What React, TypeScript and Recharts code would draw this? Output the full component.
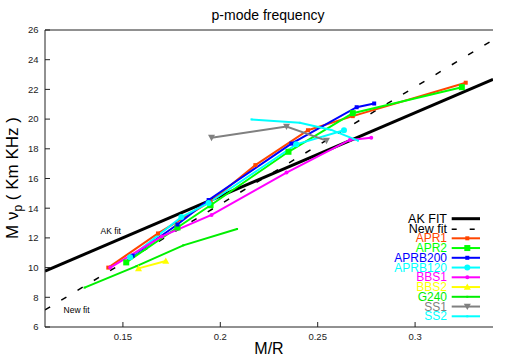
import React from 'react';
import { ComposedChart, Line, XAxis, YAxis, Legend, ReferenceDot, Customized } from 'recharts';

const FONT = '"Liberation Sans", Arial, Helvetica, sans-serif';

const xTicks = [0.15, 0.2, 0.25, 0.3];
const yTicks = [6, 8, 10, 12, 14, 16, 18, 20, 22, 24, 26];

const akFit = [{ x: 0.11, y: 9.77 }, { x: 0.34, y: 22.68 }];
const newFit = [{ x: 0.11, y: 7.15 }, { x: 0.34, y: 25.33 }];

const apr1 = [
  { x: 0.1425, y: 10.0 }, { x: 0.168, y: 12.3 }, { x: 0.195, y: 14.45 }, { x: 0.218, y: 16.9 },
  { x: 0.245, y: 19.25 }, { x: 0.268, y: 20.2 }, { x: 0.326, y: 22.45 },
];
const apr2 = [
  { x: 0.1517, y: 10.35 }, { x: 0.178, y: 12.7 }, { x: 0.195, y: 14.2 }, { x: 0.235, y: 17.8 },
  { x: 0.268, y: 20.4 }, { x: 0.324, y: 22.15 },
];
const aprb200 = [
  { x: 0.155, y: 10.8 }, { x: 0.178, y: 12.9 }, { x: 0.194, y: 14.55 }, { x: 0.2365, y: 18.35 },
  { x: 0.27, y: 20.8 }, { x: 0.279, y: 21.05 },
];
const aprb120 = [
  { x: 0.1537, y: 10.7 }, { x: 0.18, y: 13.4 }, { x: 0.194, y: 14.35 }, { x: 0.239, y: 18.3 },
  { x: 0.2635, y: 19.25 },
];
const bbs1 = [
  { x: 0.1435, y: 10.0 }, { x: 0.17, y: 12.1 }, { x: 0.1955, y: 13.55 }, { x: 0.234, y: 16.4 },
  { x: 0.2665, y: 18.6 }, { x: 0.2775, y: 18.75 },
];
const bbs2 = [{ x: 0.158, y: 9.95 }, { x: 0.172, y: 10.45 }];
const g240 = [{ x: 0.1303, y: 8.65 }, { x: 0.157, y: 10.1 }, { x: 0.181, y: 11.5 }, { x: 0.2086, y: 12.6 }];
const ss1 = [{ x: 0.1955, y: 18.75 }, { x: 0.234, y: 19.5 }, { x: 0.2545, y: 18.55 }];
const ss2 = [{ x: 0.216, y: 19.98 }, { x: 0.2408, y: 19.75 }, { x: 0.257, y: 19.27 }, { x: 0.2707, y: 18.55 }];

type Series = { name: string; data: { x: number; y: number }[]; color: string; shape: string; size: number };

const series: Series[] = [
  { name: 'APR1', data: apr1, color: '#ff4500', shape: 'square', size: 4 },
  { name: 'APR2', data: apr2, color: '#00ff00', shape: 'square', size: 6 },
  { name: 'APRB200', data: aprb200, color: '#0000ff', shape: 'square', size: 4 },
  { name: 'APRB120', data: aprb120, color: '#00ffff', shape: 'circle', size: 6 },
  { name: 'BBS1', data: bbs1, color: '#ff00ff', shape: 'circle', size: 4 },
  { name: 'BBS2', data: bbs2, color: '#ffff00', shape: 'tri', size: 7 },
  { name: 'G240', data: g240, color: '#00ee00', shape: 'square', size: 2 },
  { name: 'SS1', data: ss1, color: '#808080', shape: 'tridown', size: 7 },
  { name: 'SS2', data: ss2, color: '#00ffff', shape: 'square', size: 2 },
];

function marker(shape: string, size: number, color: string, cx: number, cy: number, key: string) {
  const h = size / 2;
  switch (shape) {
    case 'square':
      return <rect key={key} x={cx - h} y={cy - h} width={size} height={size} fill={color} />;
    case 'circle':
      return <circle key={key} cx={cx} cy={cy} r={h} fill={color} />;
    case 'tri':
      return <polygon key={key} points={`${cx},${cy - h} ${cx - h},${cy + h * 0.8} ${cx + h},${cy + h * 0.8}`} fill={color} />;
    case 'tridown':
      return <polygon key={key} points={`${cx},${cy + h} ${cx - h},${cy - h * 0.8} ${cx + h},${cy - h * 0.8}`} fill={color} />;
    default:
      return <g key={key} />;
  }
}

function makeDot(s: Series) {
  return (props: any) => {
    const { cx, cy, index } = props;
    const k = `${s.name}-${index}`;
    if (cx == null || cy == null) return <g key={k} />;
    return marker(s.shape, s.size, s.color, cx, cy, k);
  };
}

const legendRows = [33.3, 43.05, 52.8, 62.55, 72.3, 82.05, 91.8, 101.55, 111.3];

const LegendBox = () => (
  <svg width={130} height={125} style={{ display: 'block' }} fontFamily={FONT}>
    <text x={67} y={13.7} textAnchor="end" dominantBaseline="central" fontSize={12.5} fill="#000">AK FIT</text>
    <line x1={71.7} x2={100} y1={13.7} y2={13.7} stroke="#000" strokeWidth={3} />
    <text x={67} y={24.3} textAnchor="end" dominantBaseline="central" fontSize={12.5} fill="#000">New fit</text>
    <line x1={71.7} x2={100} y1={24.3} y2={24.3} stroke="#000" strokeWidth={1.5} strokeDasharray="5 13" />
    {series.map((s, i) => (
      <g key={s.name}>
        <text x={67} y={legendRows[i]} textAnchor="end" dominantBaseline="central" fontSize={12} fill={s.color}>
          {s.name}
        </text>
        <line x1={71.7} x2={100} y1={legendRows[i]} y2={legendRows[i]} stroke={s.color} strokeWidth={2} />
        {marker(s.shape, s.size, s.color, 87.3, legendRows[i], 'm' + i)}
      </g>
    ))}
  </svg>
);

const Texts = () => (
  <g fontFamily={FONT} fill="#000">
    <text x={268} y={19.5} textAnchor="middle" fontSize={14}>p-mode frequency</text>
    <text transform="rotate(-90 18 178)" x={18} y={178} textAnchor="middle" fontSize={17}>
      M ν<tspan fontSize={12} dy={4}>p</tspan>
      <tspan dy={-4}> ( Km KHz )</tspan>
    </text>
  </g>
);

const tickStyle = { fontSize: 9.5, fill: '#222', fontFamily: FONT };

export default function App() {
  return (
    <div style={{ position: 'absolute', left: 0, top: 0, width: 510, height: 357, background: '#fff' }}>
      <ComposedChart width={510} height={357} margin={{ top: 0, right: 17, bottom: 0, left: 0 }}>
        <XAxis
          dataKey="x"
          type="number"
          domain={[0.11, 0.34]}
          ticks={xTicks}
          allowDataOverflow
          height={30}
          tickSize={-5}
          tickMargin={11}
          tick={tickStyle}
          stroke="#222"
          tickFormatter={(v: number) => String(v)}
          label={{ value: 'M/R', position: 'insideBottom', offset: 3, fontSize: 16, fill: '#000', fontFamily: FONT }}
        />
        <XAxis
          xAxisId="top"
          orientation="top"
          dataKey="x"
          type="number"
          domain={[0.11, 0.34]}
          ticks={xTicks}
          allowDataOverflow
          height={30}
          tickSize={-5}
          tick={false}
          stroke="#222"
        />
        <YAxis
          type="number"
          domain={[6, 26]}
          ticks={yTicks}
          allowDataOverflow
          width={45}
          tickSize={-5}
          tickMargin={11.5}
          tick={tickStyle}
          stroke="#222"
        />
        <YAxis
          yAxisId="right"
          orientation="right"
          type="number"
          domain={[6, 26]}
          ticks={yTicks}
          allowDataOverflow
          width={0}
          tickSize={-5}
          tick={false}
          stroke="#222"
        />
        <Line data={akFit} dataKey="y" type="linear" stroke="#000" strokeWidth={3} dot={false} isAnimationActive={false} legendType="none" />
        <Line data={newFit} dataKey="y" type="linear" stroke="#000" strokeWidth={1.5} strokeDasharray="6 13" dot={false} isAnimationActive={false} legendType="none" />
        {series.map((s) => (
          <Line
            key={s.name}
            name={s.name}
            data={s.data}
            dataKey="y"
            type="linear"
            stroke={s.color}
            strokeWidth={2}
            dot={makeDot(s)}
            activeDot={false}
            isAnimationActive={false}
          />
        ))}
        <ReferenceDot x={0.137} y={12.46} r={1} fill="none" stroke="none"
          label={{ value: 'AK fit', position: 'right', offset: 2, fontSize: 8.5, fill: '#000', fontFamily: FONT }} />
        <ReferenceDot x={0.118} y={7.16} r={1} fill="none" stroke="none"
          label={{ value: 'New fit', position: 'right', offset: 2, fontSize: 8.5, fill: '#000', fontFamily: FONT }} />
        <Customized component={Texts} />
        <Legend
          layout="vertical"
          align="center"
          verticalAlign="middle"
          content={() => <LegendBox />}
          wrapperStyle={{ position: 'absolute', left: 380, top: 205, width: 130, height: 125 }}
        />
      </ComposedChart>
    </div>
  );
}
